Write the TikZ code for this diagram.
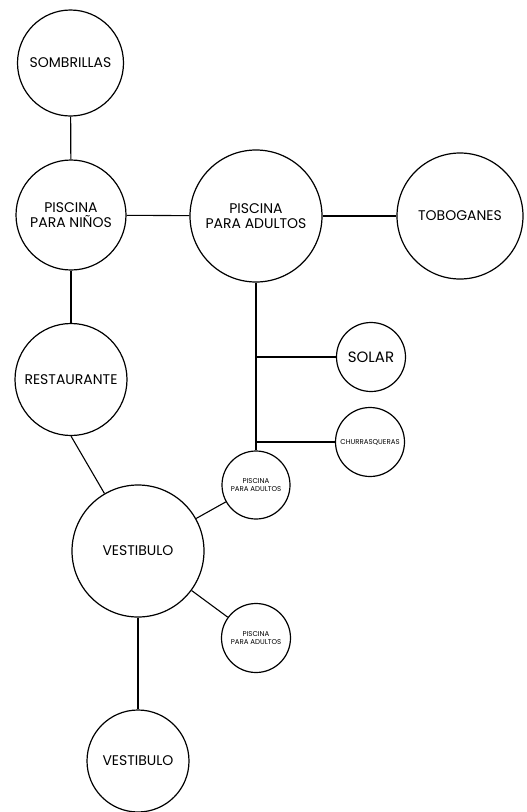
\documentclass[tikz,border=0pt]{standalone}
\usepackage{fontspec}
\setmainfont{Poppins}
\usetikzlibrary{positioning}

\tikzset{
  bubble/.style={circle, draw=black, line width=1.2pt, inner sep=0pt, align=center, font=\fontsize{14}{15.5}\selectfont},
  smallbubble/.style={bubble, font=\fontsize{7}{7.8}\selectfont},
  link/.style={line width=1.1pt, draw=black}
}

\begin{document}
\begin{tikzpicture}[x=1pt, y=-1pt]
\useasboundingbox (0,0) rectangle (527,812);
\node[bubble, minimum size=106pt] (sombrillas) at (70.5,63) {SOMBRILLAS};
\node[bubble, minimum size=110pt] (ninos) at (71,215) {PISCINA\\PARA NIÑOS};
\node[bubble, minimum size=132pt] (adultos) at (256,216) {PISCINA\\PARA ADULTOS};
\node[bubble, minimum size=126pt] (toboganes) at (460,216) {TOBOGANES};
\node[bubble, minimum size=112pt] (restaurante) at (71,379.5) {RESTAURANTE};
\node[bubble, minimum size=69pt, font=\fontsize{15}{16}\selectfont] (solar) at (371,357) {SOLAR};
\node[smallbubble, minimum size=69pt] (churras) at (370,442) {CHURRASQUERAS};
\node[smallbubble, minimum size=68pt] (pisc1) at (256,485) {PISCINA\\PARA ADULTOS};
\node[bubble, minimum size=132pt] (vestibulo) at (138,551) {VESTIBULO};
\node[smallbubble, minimum size=69pt] (pisc2) at (256,638) {PISCINA\\PARA ADULTOS};
\node[bubble, minimum size=102pt] (vestibulo2) at (138,761) {VESTIBULO};
\draw[link] (sombrillas) -- (ninos);
\draw[link] (ninos) -- (adultos);
\draw[link] (adultos) -- (toboganes);
\draw[link] (ninos) -- (restaurante);
\draw[link] (adultos) -- (pisc1);
\draw[link] (adultos |- solar) -- (solar);
\draw[link] (adultos |- churras) -- (churras);
\draw[link] (restaurante.south) -- (vestibulo);
\draw[link] (vestibulo) -- (pisc1);
\draw[link] (vestibulo) -- (pisc2);
\draw[link] (vestibulo) -- (vestibulo2);
\end{tikzpicture}
\end{document}
